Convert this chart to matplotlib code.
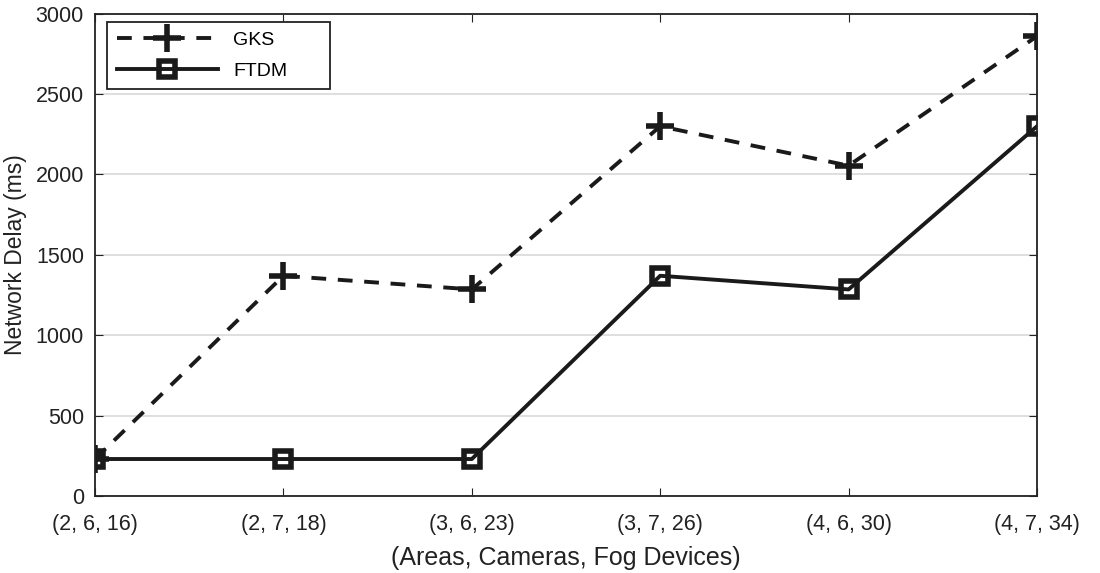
import matplotlib.pyplot as plt

plt.rcParams['font.family'] = ['Liberation Sans', 'DejaVu Sans']

# data
configs = ['(2, 6, 16)', '(2, 7, 18)', '(3, 6, 23)', '(3, 7, 26)', '(4, 6, 30)', '(4, 7, 34)']
gks = [230, 1370, 1285, 2300, 2055, 2860]
ftdm = [230, 230, 230, 1370, 1285, 2300]

fig = plt.figure(figsize=(11, 5.73), dpi=100)
ax = fig.add_axes([0.0864, 0.1344, 0.8563, 0.8416])

x = range(len(configs))
ax.plot(x, gks, color='#1a1a1a', lw=2.8, ls=(0, (3.8, 3.0)), marker='+', ms=20, mew=4, label='GKS')
ax.plot(x, ftdm, color='#1a1a1a', lw=2.8, ls='-', marker='s', ms=11, mew=4, mfc='none', label='FTDM')

ax.set_xlim(0, len(configs) - 1)
ax.set_ylim(0, 3000)
ax.set_xticks(list(x))
ax.set_xticklabels(configs)
ax.set_yticks(range(0, 3001, 500))
ax.tick_params(direction='in', top=True, right=True, labelsize=15.5, colors='#222222', length=6)
ax.tick_params(axis='x', pad=13)
ax.tick_params(axis='y', pad=8)
ax.yaxis.grid(True, color='#d9d9d9', lw=1.2)
ax.set_axisbelow(True)
for s in ax.spines.values():
    s.set_linewidth(1.3)
    s.set_color('#222222')

ax.set_xlabel('(Areas, Cameras, Fog Devices)', fontsize=18, color='#222222', labelpad=8)
ax.set_ylabel('Network Delay (ms)', fontsize=16.5, color='#222222', labelpad=6)

leg = ax.legend(loc='upper left', bbox_to_anchor=(0.0127, 0.0, 0.237, 0.983), mode='expand',
                borderaxespad=0, fontsize=14, handlelength=5.2, fancybox=False,
                edgecolor='#222222', framealpha=1, labelspacing=0.65, borderpad=0.5)
leg.get_frame().set_linewidth(1.3)

fig.savefig('out.png', dpi=100)
